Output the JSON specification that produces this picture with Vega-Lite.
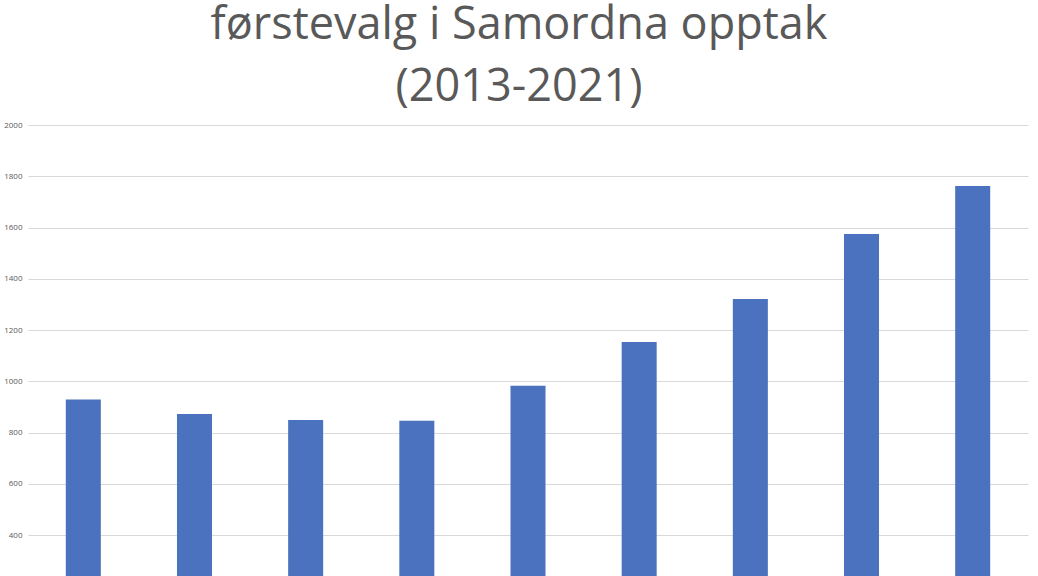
{
  "$schema": "https://vega.github.io/schema/vega-lite/v6.json",
  "autosize": "none",
  "width": 1000,
  "height": 451,
  "padding": {"left": 28, "top": 125, "right": 10, "bottom": 0},
  "background": "white",
  "title": {
    "text": ["førstevalg i Samordna opptak", "(2013-2021)"],
    "anchor": "middle",
    "dx": -9,
    "font": "Open Sans",
    "fontSize": 45,
    "fontWeight": "normal",
    "color": "#595959",
    "lineHeight": 62,
    "offset": 11
  },
  "data": {
    "values": [
      {"year": "2013", "count": 929},
      {"year": "2014", "count": 872},
      {"year": "2015", "count": 849},
      {"year": "2016", "count": 846},
      {"year": "2017", "count": 982},
      {"year": "2018", "count": 1153},
      {"year": "2019", "count": 1321},
      {"year": "2020", "count": 1575},
      {"year": "2021", "count": 1762}
    ]
  },
  "mark": {"type": "bar", "color": "#4A72BE", "clip": true},
  "encoding": {
    "x": {
      "field": "year",
      "type": "ordinal",
      "axis": null,
      "scale": {"paddingInner": 0.685, "paddingOuter": 0.34}
    },
    "y": {
      "field": "count",
      "type": "quantitative",
      "scale": {"domain": [240, 2000], "zero": false, "nice": false},
      "axis": {
        "title": null,
        "values": [400, 600, 800, 1000, 1200, 1400, 1600, 1800, 2000],
        "format": "d",
        "domain": false,
        "ticks": false,
        "labelFont": "Open Sans",
        "labelFontSize": 8,
        "labelColor": "#595959",
        "labelPadding": 6,
        "gridColor": "#d9d9d9",
        "gridWidth": 1
      }
    }
  },
  "config": {"view": {"stroke": null}}
}
